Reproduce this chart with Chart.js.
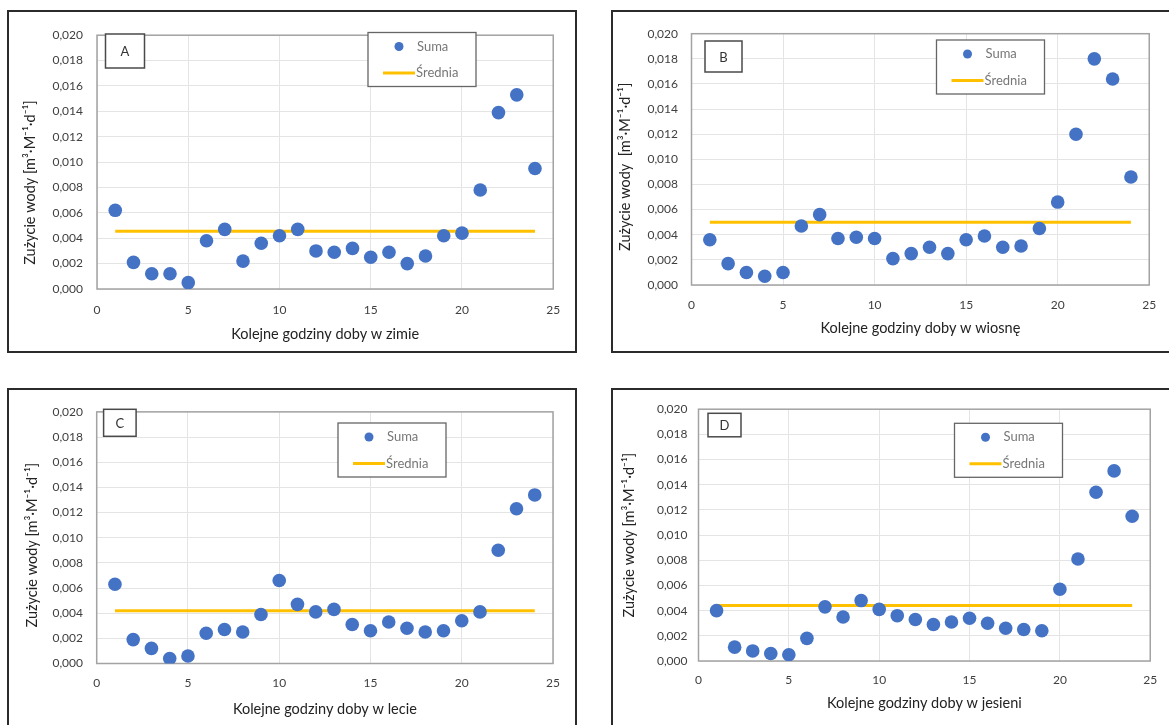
<!DOCTYPE html>
<html>
<head>
<meta charset="utf-8">
<script src="https://cdn.jsdelivr.net/npm/chart.js@4.4.1/dist/chart.umd.min.js"></script>
<style>
  html, body { margin: 0; padding: 0; background: #fff; }
  body { width: 1169px; height: 725px; overflow: hidden; position: relative; }
  .frame { position: absolute; box-sizing: border-box; border: 2px solid #2b2b2b; }
  canvas { position: absolute; }
</style>
</head>
<body>
<div class="frame" style="left:7px;top:10px;width:570px;height:343px"></div>
<div class="frame" style="left:611px;top:10px;width:600px;height:343px"></div>
<div class="frame" style="left:7px;top:388px;width:570px;height:400px"></div>
<div class="frame" style="left:611px;top:388px;width:600px;height:400px"></div>
<canvas id="cA"></canvas>
<canvas id="cB"></canvas>
<canvas id="cC"></canvas>
<canvas id="cD"></canvas>
<script>
// hours of the day (x values)
const hours = [1, 2, 3, 4, 5, 6, 7, 8, 9, 10, 11, 12, 13, 14, 15, 16, 17, 18, 19, 20, 21, 22, 23, 24];

// Suma - water use per hour
const sumaZima   = [0.0062, 0.0021, 0.0012, 0.0012, 0.0005, 0.0038, 0.0047, 0.0022, 0.0036, 0.0042, 0.0047, 0.0030,
                    0.0029, 0.0032, 0.0025, 0.0029, 0.0020, 0.0026, 0.0042, 0.0044, 0.0078, 0.0139, 0.0153, 0.0095];
const sumaWiosna = [0.0036, 0.0017, 0.0010, 0.0007, 0.0010, 0.0047, 0.0056, 0.0037, 0.0038, 0.0037, 0.0021, 0.0025,
                    0.0030, 0.0025, 0.0036, 0.0039, 0.0030, 0.0031, 0.0045, 0.0066, 0.0120, 0.0180, 0.0164, 0.0086];
const sumaLato   = [0.0063, 0.0019, 0.0012, 0.0004, 0.0006, 0.0024, 0.0027, 0.0025, 0.0039, 0.0066, 0.0047, 0.0041,
                    0.0043, 0.0031, 0.0026, 0.0033, 0.0028, 0.0025, 0.0026, 0.0034, 0.0041, 0.0090, 0.0123, 0.0134];
const sumaJesien = [0.0040, 0.0011, 0.0008, 0.0006, 0.0005, 0.0018, 0.0043, 0.0035, 0.0048, 0.0041, 0.0036, 0.0033,
                    0.0029, 0.0031, 0.0034, 0.0030, 0.0026, 0.0025, 0.0024, 0.0057, 0.0081, 0.0134, 0.0151, 0.0115];

// Średnia - mean level per season
const sredniaZima = 0.00455;
const sredniaWiosna = 0.0050;
const sredniaLato = 0.0042;
const sredniaJesien = 0.0044;

const yTickLabels = ['0,000', '0,002', '0,004', '0,006', '0,008', '0,010', '0,012', '0,014', '0,016', '0,018', '0,020'];
const xTickLabels = ['0', '5', '10', '15', '20', '25'];

const letters = ['A', 'B', 'C', 'D'];
const xTitles = ['Kolejne godziny doby w zimie', 'Kolejne godziny doby w wiosnę',
                 'Kolejne godziny doby w lecie', 'Kolejne godziny doby w jesieni'];
const yTitles = ['Zużycie wody [m³·M⁻¹·d⁻¹]', 'Zużycie wody  [m³·M⁻¹·d⁻¹]',
                 'Zużycie wody [m³·M⁻¹·d⁻¹]', 'Zużycie wody [m³·M⁻¹·d⁻¹]'];
const seriesSuma = [sumaZima, sumaWiosna, sumaLato, sumaJesien];
const seriesSrednia = [sredniaZima, sredniaWiosna, sredniaLato, sredniaJesien];

// page layout (pixels) for each panel
// yTitlePad: trailing blank space after the y title, pushes the title down the axis
const layouts = [
  { canvas: [10, 14, 564, 336], plot: [97, 26.5, 554.5, 289], yTickRight: 83, xTickY: 310, xTitleY: 334, yTitleX: 30,
    yTitlePad: 11, letterBox: [105.5, 34, 39, 34], legendBox: [368, 32.5] },
  { canvas: [614, 13, 555, 337], plot: [691.5, 32.5, 1154, 285], yTickRight: 678, xTickY: 305, xTitleY: 328, yTitleX: 625.5,
    yTitlePad: 4, letterBox: [705, 41, 37, 31], legendBox: [936.5, 40] },
  { canvas: [10, 391, 564, 334], plot: [96.7, 401.7, 553, 663.5], yTickRight: 83, xTickY: 683, xTitleY: 709, yTitleX: 32,
    yTitlePad: 4, letterBox: [103.6, 409.3, 32.5, 27], legendBox: [338, 423] },
  { canvas: [614, 391, 555, 334], plot: [698.5, 403, 1160, 661], yTickRight: 687.5, xTickY: 680, xTitleY: 703, yTitleX: 629,
    yTitlePad: 0, letterBox: [708, 413.3, 33, 23.5], legendBox: [954.5, 423.3] }
];

const FONT = 'Lato, "Open Sans", sans-serif';
const tickSize = 12;
const titleSize = 14.5;

const panelDecor = {
  id: 'panelDecor',
  beforeDatasetsDraw(chart, args, opts) {
    const ctx = chart.ctx, a = chart.chartArea;
    ctx.save();
    ctx.strokeStyle = '#a3a3a3';
    ctx.lineWidth = 1.5;
    ctx.strokeRect(a.left, a.top, a.right - a.left, a.bottom - a.top);
    ctx.restore();
  },
  afterDraw(chart, args, opts) {
    const ctx = chart.ctx;
    ctx.save();
    // letter box
    const lb = opts.letterBox;
    ctx.fillStyle = '#fff';
    ctx.fillRect(lb[0], lb[1], lb[2], lb[3]);
    ctx.strokeStyle = '#4a4a4a';
    ctx.lineWidth = 1.5;
    ctx.strokeRect(lb[0], lb[1], lb[2], lb[3]);
    ctx.fillStyle = '#333';
    ctx.font = '13px ' + FONT;
    ctx.textAlign = 'center';
    ctx.textBaseline = 'middle';
    ctx.fillText(opts.letter, lb[0] + lb[2] / 2, lb[1] + lb[3] / 2 + 1);

    // legend box
    const g = opts.legendBox;
    const w = 108, h = 54;
    ctx.fillStyle = '#fff';
    ctx.fillRect(g[0], g[1], w, h);
    ctx.strokeStyle = '#666';
    ctx.lineWidth = 1.3;
    ctx.strokeRect(g[0], g[1], w, h);
    const ds = chart.data.datasets;
    ctx.fillStyle = ds[0].backgroundColor;
    ctx.beginPath();
    ctx.arc(g[0] + 31, g[1] + 14, 4.5, 0, Math.PI * 2);
    ctx.fill();
    ctx.strokeStyle = ds[1].borderColor;
    ctx.lineWidth = 3;
    ctx.beginPath();
    ctx.moveTo(g[0] + 15, g[1] + 40.5);
    ctx.lineTo(g[0] + 47, g[1] + 40.5);
    ctx.stroke();
    ctx.fillStyle = '#777';
    ctx.font = '13px ' + FONT;
    ctx.textAlign = 'left';
    ctx.fillText(ds[0].label, g[0] + 49, g[1] + 14);
    ctx.fillText(ds[1].label, g[0] + 48, g[1] + 40.5);
    ctx.restore();
  }
};

function makePanel(i) {
  const L = layouts[i];
  const [cx, cy, cw, ch] = L.canvas;
  const [pl, pt, pr, pb] = L.plot;
  const canvas = document.getElementById('c' + letters[i]);
  canvas.width = cw;
  canvas.height = ch;
  canvas.style.left = cx + 'px';
  canvas.style.top = cy + 'px';

  const points = hours.map((hr, k) => ({ x: hr, y: seriesSuma[i][k] }));
  const mean = [{ x: hours[0], y: seriesSrednia[i] }, { x: hours[hours.length - 1], y: seriesSrednia[i] }];

  const yAxisWidth = pl - cx;
  const xAxisHeight = cy + ch - pb;

  new Chart(canvas, {
    type: 'scatter',
    data: {
      datasets: [
        {
          label: 'Suma',
          data: points,
          backgroundColor: '#4472C4',
          borderColor: '#4472C4',
          pointRadius: 6.8,
          pointBorderWidth: 0
        },
        {
          type: 'line',
          label: 'Średnia',
          data: mean,
          borderColor: '#FFC000',
          backgroundColor: '#FFC000',
          borderWidth: 3,
          pointRadius: 0,
          showLine: true,
          fill: false
        }
      ]
    },
    options: {
      responsive: false,
      animation: false,
      layout: { padding: { top: pt - cy, right: cx + cw - pr, bottom: 0, left: 0 } },
      plugins: {
        legend: { display: false },
        tooltip: { enabled: false },
        panelDecor: {
          letter: letters[i],
          letterBox: [L.letterBox[0] - cx, L.letterBox[1] - cy, L.letterBox[2], L.letterBox[3]],
          legendBox: [L.legendBox[0] - cx, L.legendBox[1] - cy]
        }
      },
      scales: {
        x: {
          type: 'linear',
          min: 0,
          max: 25,
          ticks: {
            stepSize: 5,
            padding: L.xTickY - pb - tickSize * 0.6,
            color: '#404040',
            font: { family: FONT, size: tickSize },
            callback: (v, k) => xTickLabels[k]
          },
          grid: { color: '#e4e4e4', lineWidth: 1, drawTicks: false },
          border: { display: false },
          title: {
            display: true,
            text: xTitles[i],
            color: '#222',
            font: { family: FONT, size: titleSize },
            padding: { top: 0, bottom: cy + ch - L.xTitleY - titleSize * 0.6 }
          },
          afterFit: (s) => { s.height = xAxisHeight; }
        },
        y: {
          min: 0,
          max: 0.02,
          ticks: {
            stepSize: 0.002,
            padding: pl - L.yTickRight,
            color: '#404040',
            font: { family: FONT, size: tickSize },
            callback: (v, k) => yTickLabels[k]
          },
          grid: { color: '#e4e4e4', lineWidth: 1, drawTicks: false },
          border: { display: false },
          title: {
            display: true,
            text: yTitles[i] + ' '.repeat(L.yTitlePad),
            color: '#222',
            font: { family: FONT, size: titleSize },
            padding: { top: L.yTitleX - cx - titleSize * 0.6, bottom: 0 }
          },
          afterFit: (s) => { s.width = yAxisWidth; }
        }
      }
    },
    plugins: [panelDecor]
  });
}

for (let i = 0; i < 4; i++) makePanel(i);
</script>
</body>
</html>
